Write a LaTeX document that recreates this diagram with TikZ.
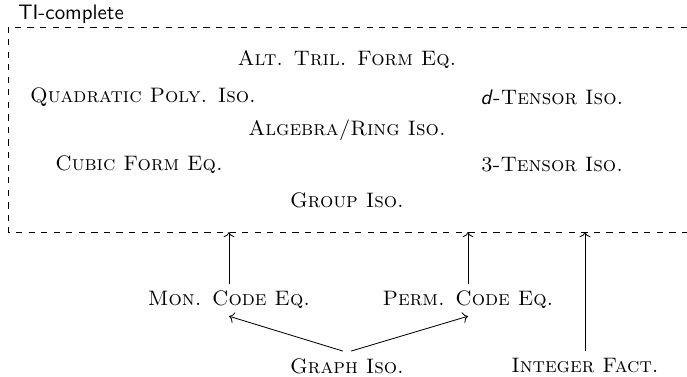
\documentclass[tikz,border=0pt]{standalone}
\usetikzlibrary{arrows.meta}
\begin{document}
\begin{tikzpicture}[x=0.4776pt, y=-0.4776pt,
  prob/.style={inner sep=3.3pt, font=\scshape},
  arr/.style={->, line width=0.4pt},
  boxline/.style={dashed, line width=0.4pt}]
\useasboundingbox (0,0) rectangle (687,377);
% TI-complete region
\draw[boxline] (687,27) -- (8,27) -- (8,232) -- (687,232);
\node[anchor=base west, inner sep=0pt, font=\sffamily] (tic) at (18,20) {TI-complete};
% coordinates on the region's bottom edge
\coordinate (inMon) at (229,232);
\coordinate (inPerm) at (468,232);
\coordinate (inInt) at (585,232);
% problems inside
\node[prob] (alt) at (347,60) {Alt. Tril. Form Eq.};
\node[prob] (quad) at (143,97) {Quadratic Poly. Iso.};
\node[prob] (dten) at (552,97) {\textsf{\itshape d}-Tensor Iso.};
\node[prob] (alg) at (347,130) {Algebra/Ring Iso.};
\node[prob] (cubic) at (139,165) {Cubic Form Eq.};
\node[prob] (tten) at (552,165) {3-Tensor Iso.};
\node[prob] (grp) at (347,200) {Group Iso.};
% problems outside
\node[prob] (mon) at (229,300) {Mon. Code Eq.};
\node[prob] (perm) at (468,300) {Perm. Code Eq.};
\node[prob] (graph) at (347,366) {Graph Iso.};
\node[prob] (int) at (585,366) {Integer Fact.};
% reductions
\draw[arr] (mon.north) -- (inMon);
\draw[arr] (perm.north) -- (inPerm);
\draw[arr] (int.north) -- (inInt);
\draw[arr] ([xshift=-2pt]graph.north) -- (mon.south);
\draw[arr] ([xshift=2pt]graph.north) -- (perm.south);
\end{tikzpicture}
\end{document}
